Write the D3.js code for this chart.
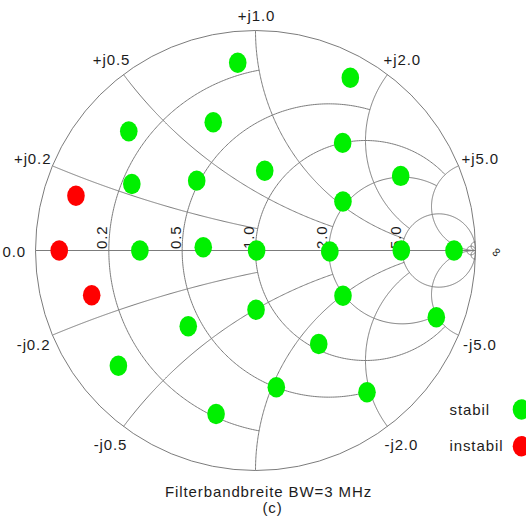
<!DOCTYPE html>
<html>
<head>
<meta charset="utf-8">
<script src="https://cdn.jsdelivr.net/npm/d3@7"></script>
<style>
  html, body { margin: 0; padding: 0; background: #fff; }
  svg { display: block; }
  text { font-family: "Liberation Sans", Arial, sans-serif; font-size: 15px; fill: #1c1c1c; letter-spacing: 0.9px; }
</style>
</head>
<body>
<svg id="chart" width="526" height="517"></svg>
<script>
// Operating points as normalized impedance z = r + jx
const pointR = [0.14, 0.21, 0.135, 0.354, 1.0, 0.826, 0.485, 0.234, 1.95, 1.92,
                0.081, 0.057, 0.311, 0.616, 1.01, 2.02, 4.93, 19.5,
                0.131, 1.974, 0.869, 0.432, 1.874, 1.07, 0.116, 0.501, 0.498, 0.214];
const pointX = [0.90, 1.67, 0.39, 0.662, 1.62, 0.691, 0.372, 0.239, 2.94, 1.08,
                0.148, 0.0, 0.0, 0.019, 0.0, -0.02, 0.0, 0.0,
                -0.132, -1.015, -0.504, -0.378, -4.9, -1.235, -0.36, -1.031, -1.957, -0.765];
const pointState = ["stabil", "stabil", "stabil", "stabil", "stabil", "stabil", "stabil", "stabil", "stabil", "stabil",
                    "instabil", "instabil", "stabil", "stabil", "stabil", "stabil", "stabil", "stabil",
                    "instabil", "stabil", "stabil", "stabil", "stabil", "stabil", "stabil", "stabil", "stabil", "stabil"];

// Grid: constant-resistance circles and the reactance up to which each is drawn
const resistanceValues = [0.2, 0.5, 1, 2, 5, 50];
const resistanceLimit  = [1, 2, 5, 5, Infinity, Infinity];
// Constant-reactance arcs and the resistance up to which each is drawn
const reactanceValues = [0.2, 0.5, 1, 2, 5, 50];
const reactanceLimit  = [1, 2, 5, 5, Infinity, Infinity];

// Tick labels
const resistanceLabels = ["0.2", "0.5", "1.0", "2.0", "5.0"];
const reactanceTicks = [0.2, 0.5, 1, 2, 5, -0.2, -0.5, -2, -5];
const reactanceLabels = ["+j0.2", "+j0.5", "+j1.0", "+j2.0", "+j5.0", "-j0.2", "-j0.5", "-j2.0", "-j5.0"];

const legendLabels = ["stabil", "instabil"];
const legendColors = ["#00f000", "#ff0000"];
const captionLines = ["Filterbandbreite BW=3 MHz", "(c)"];

const svg = d3.select("#chart");
const cx = 255.5, cy = 250.5, R = 220;
const gx = d3.scaleLinear().domain([-1, 1]).range([cx - R, cx + R]);
const gy = d3.scaleLinear().domain([-1, 1]).range([cy + R, cy - R]);
const color = d3.scaleOrdinal().domain(legendLabels).range(legendColors);

// Reflection coefficient of z = r + jx
function gamma(r, x) {
  if (!isFinite(r) || !isFinite(x)) return [1, 0];
  const d = (r + 1) * (r + 1) + x * x;
  return [(r * r + x * x - 1) / d, 2 * x / d];
}

const line = d3.line().x(d => gx(d[0])).y(d => gy(d[1]));
const gridColor = "#7c7c7c";
const grid = svg.append("g").attr("fill", "none").attr("stroke", gridColor).attr("stroke-width", 1);

// Outer circle (r = 0)
grid.append("circle").attr("cx", gx(0)).attr("cy", gy(0)).attr("r", gx(1) - gx(0));

// Real axis
grid.append("path").attr("d", line([[-1, 0], [1, 0]]));

// Constant-resistance circles, trimmed at their reactance limit
resistanceValues.forEach((r, i) => {
  const c = r / (1 + r), rho = 1 / (1 + r);
  const end = gamma(r, resistanceLimit[i]);
  const t0 = Math.atan2(end[1], end[0] - c);
  const pts = d3.range(0, 301).map(k => {
    const t = t0 + (2 * Math.PI - 2 * t0) * k / 300;
    return [c + rho * Math.cos(t), rho * Math.sin(t)];
  });
  grid.append("path").attr("d", line(pts));
});

// Constant-reactance arcs (both signs), trimmed at their resistance limit
reactanceValues.forEach((x, i) => {
  const ccy = 1 / x, rho = 1 / x;
  const start = gamma(0, x), end = gamma(reactanceLimit[i], x);
  const a0 = Math.atan2(start[1] - ccy, start[0] - 1);
  let a1 = Math.atan2(end[1] - ccy, end[0] - 1);
  while (a1 < a0) a1 += 2 * Math.PI;
  const pts = d3.range(0, 201).map(k => {
    const a = a0 + (a1 - a0) * k / 200;
    return [1 + rho * Math.cos(a), ccy + rho * Math.sin(a)];
  });
  [1, -1].forEach(s => {
    grid.append("path").attr("d", line(pts.map(p => [p[0], s * p[1]])));
  });
});

// Resistance labels, rotated, just left of each circle on the real axis
const labels = svg.append("g");
resistanceLabels.forEach(txt => {
  const r = +txt;
  const px = gx(gamma(r, 0)[0]) - 1.5, py = cy - 1.5;
  labels.append("text")
    .attr("transform", `translate(${px},${py}) rotate(-90)`)
    .attr("text-anchor", "start")
    .text(txt);
});
labels.append("text").attr("x", 26).attr("y", cy + 6).attr("text-anchor", "end").text("0.0");
labels.append("text")
  .attr("transform", `translate(${gx(1) + 21},${cy + 2}) rotate(-50)`)
  .attr("text-anchor", "middle")
  .attr("dominant-baseline", "middle")
  .style("font-size", "13px")
  .style("letter-spacing", "0px")
  .text("\u221E");

// Reactance labels around the rim
const rimOffset = {
  "0.2": ["end", -1, -2], "0.5": ["middle", -12, -10], "1": ["middle", 1, -10],
  "2": ["start", -4, -9.5], "5": ["start", 3, -2]
};
const rimOffsetNeg = {
  "0.2": ["end", -2, 15], "0.5": ["middle", -13, 23.5],
  "2": ["start", -3, 23.5], "5": ["start", 4.5, 15]
};
reactanceTicks.forEach((x, i) => {
  const g = gamma(0, x);
  const o = x > 0 ? rimOffset[String(x)] : rimOffsetNeg[String(-x)];
  labels.append("text")
    .attr("x", gx(g[0]) + o[1])
    .attr("y", gy(g[1]) + o[2])
    .attr("text-anchor", o[0])
    .text(reactanceLabels[i]);
});

// Operating points
const points = d3.range(pointR.length).map(i => ({ r: pointR[i], x: pointX[i], state: pointState[i] }));
svg.append("g").selectAll("ellipse").data(points).join("ellipse")
  .attr("cx", d => gx(gamma(d.r, d.x)[0]))
  .attr("cy", d => gy(gamma(d.r, d.x)[1]))
  .attr("rx", 8.8).attr("ry", 10.2)
  .attr("fill", d => color(d.state));

// Legend
const legend = svg.append("g");
legendLabels.forEach((lab, i) => {
  const y = 409.5 + i * 36.8;
  legend.append("text").attr("x", 449.5).attr("y", y + 5).text(lab);
  legend.append("ellipse").attr("cx", 521.5).attr("cy", y).attr("rx", 8.8).attr("ry", 10.2).attr("fill", color(lab));
});

// Caption
svg.append("g").selectAll("text").data(captionLines).join("text")
  .attr("x", (d, i) => i === 0 ? 268.5 : 272.5)
  .attr("y", (d, i) => i === 0 ? 497 : 512.5)
  .attr("text-anchor", "middle")
  .text(d => d);
</script>
</body>
</html>
